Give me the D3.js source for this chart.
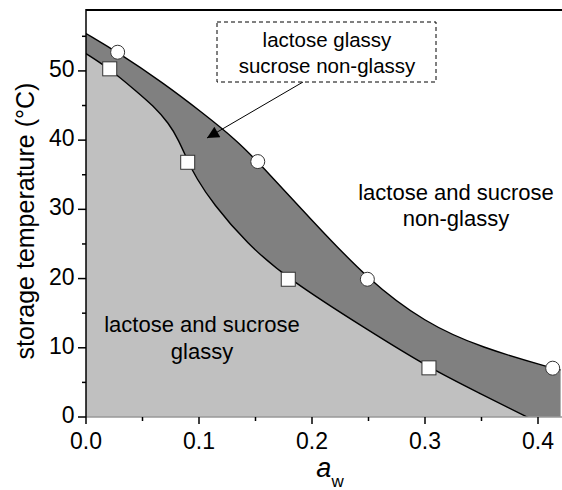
<!DOCTYPE html>
<html><head><meta charset="utf-8">
<script src="https://cdn.jsdelivr.net/npm/d3@7"></script>
<style>body{margin:0;background:#fff}svg{display:block}text{font-family:Arial,"Liberation Sans",sans-serif}</style>
</head><body>
<script>
// Data
const upperCurveX = [0, 0.028, 0.068, 0.1035, 0.133, 0.152, 0.2, 0.249, 0.3, 0.35, 0.413, 0.42];
const upperCurveT = [55.4, 52.7, 48.3, 43.9, 40.0, 36.9, 28.4, 19.9, 13.6, 10.0, 7.05, 6.8];
const lowerCurveX = [0, 0.021, 0.0442, 0.0593, 0.0735, 0.082, 0.09, 0.0973, 0.112, 0.142, 0.179, 0.249, 0.3035, 0.35, 0.39, 0.42];
const lowerCurveT = [52.5, 50.3, 47.1, 45.0, 42.4, 40.0, 37.0, 34.6, 30.9, 25.1, 19.9, 12.6, 7.1, 3.3, 0, -2.3];
const circleX = [0.028, 0.152, 0.249, 0.413];
const circleT = [52.7, 36.9, 19.9, 7.05];
const squareX = [0.021, 0.09, 0.179, 0.3035];
const squareT = [50.3, 36.8, 19.9, 7.1];
const xTicks = [0, 0.1, 0.2, 0.3, 0.4];
const xMinor = [0.05, 0.15, 0.25, 0.35];
const yTicks = [0, 10, 20, 30, 40, 50];
const yMinor = [5, 15, 25, 35, 45, 55];

const W = 562, H = 490;
const x = d3.scaleLinear().domain([0, 0.42]).range([86, 560.6]);
const y = d3.scaleLinear().domain([0, 58.8]).range([417, 10]);

const svg = d3.select("body").append("svg").attr("width", W).attr("height", H);
const defs = svg.append("defs");
defs.append("clipPath").attr("id", "plot").append("rect")
  .attr("x", 86).attr("y", 10).attr("width", W - 86).attr("height", 407);
defs.append("marker").attr("id", "ah").attr("viewBox", "0 0 10 10").attr("refX", 10).attr("refY", 5)
  .attr("markerWidth", 14).attr("markerHeight", 12).attr("markerUnits", "userSpaceOnUse").attr("orient", "auto")
  .append("path").attr("d", "M0,0 L10,5 L0,10 Z").attr("fill", "#000");

const upper = upperCurveX.map((v, i) => [v, upperCurveT[i]]);
const lower = lowerCurveX.map((v, i) => [v, lowerCurveT[i]]);
const curve = d3.curveBasis;
const area = d3.area().x(d => x(d[0])).y0(y(0)).y1(d => y(d[1])).curve(curve);
const line = d3.line().x(d => x(d[0])).y(d => y(d[1])).curve(curve);

const g = svg.append("g").attr("clip-path", "url(#plot)");
g.append("path").attr("d", area(upper)).attr("fill", "#808080");
g.append("path").attr("d", area(lower)).attr("fill", "#c0c0c0");
g.append("path").attr("d", line(upper)).attr("fill", "none").attr("stroke", "#000").attr("stroke-width", 1.4);
g.append("path").attr("d", line(lower)).attr("fill", "none").attr("stroke", "#000").attr("stroke-width", 1.4);

// axes
svg.append("line").attr("x1", 86).attr("x2", W).attr("y1", y(0)).attr("y2", y(0)).attr("stroke", "#999").attr("stroke-width", 1.5);
svg.append("line").attr("x1", 86).attr("x2", W).attr("y1", 10).attr("y2", 10).attr("stroke", "#000").attr("stroke-width", 2);
svg.append("line").attr("x1", 86).attr("x2", 86).attr("y1", 9).attr("y2", y(0)).attr("stroke", "#000").attr("stroke-width", 1.5);

xTicks.forEach(t => svg.append("line").attr("x1", x(t)).attr("x2", x(t)).attr("y1", y(0)).attr("y2", y(0) + 7).attr("stroke", "#000").attr("stroke-width", 1.5));
xMinor.forEach(t => svg.append("line").attr("x1", x(t)).attr("x2", x(t)).attr("y1", y(0)).attr("y2", y(0) + 4).attr("stroke", "#000").attr("stroke-width", 1.5));
yTicks.forEach(t => svg.append("line").attr("x1", 86).attr("x2", 78).attr("y1", y(t)).attr("y2", y(t)).attr("stroke", "#000").attr("stroke-width", 1.5));
yMinor.forEach(t => svg.append("line").attr("x1", 86).attr("x2", 82).attr("y1", y(t)).attr("y2", y(t)).attr("stroke", "#000").attr("stroke-width", 1.5));

svg.selectAll(".xl").data(xTicks).enter().append("text")
  .attr("x", d => x(d)).attr("y", 449).attr("text-anchor", "middle").attr("font-size", 23)
  .text(d => d.toFixed(1));
svg.selectAll(".yl").data(yTicks).enter().append("text")
  .attr("x", 74.5).attr("y", d => y(d) + 6).attr("text-anchor", "end").attr("font-size", 23)
  .text(d => d);

// axis titles
const xt = svg.append("text").attr("x", 330).attr("y", 477).attr("text-anchor", "middle");
xt.append("tspan").attr("font-size", 27).attr("font-style", "italic").text("a");
xt.append("tspan").attr("font-size", 17).attr("dy", 10).text("w");
svg.append("text").attr("transform", "translate(34,221) rotate(-90)").attr("text-anchor", "middle")
  .attr("font-size", 25).text("storage temperature (°C)");

// markers
svg.selectAll(".sq").data(squareX).enter().append("rect")
  .attr("x", (d) => x(d) - 7).attr("y", (d, i) => y(squareT[i]) - 7).attr("width", 14).attr("height", 14)
  .attr("fill", "#fff").attr("stroke", "#333").attr("stroke-width", 1);
svg.selectAll(".ci").data(circleX).enter().append("circle")
  .attr("cx", d => x(d)).attr("cy", (d, i) => y(circleT[i])).attr("r", 7)
  .attr("fill", "#fff").attr("stroke", "#333").attr("stroke-width", 1);

// annotations
svg.append("rect").attr("x", 217).attr("y", 22).attr("width", 219).attr("height", 60)
  .attr("fill", "#fff").attr("stroke", "#000").attr("stroke-width", 1).attr("stroke-dasharray", "4,3");
svg.append("text").attr("x", 327).attr("y", 47).attr("text-anchor", "middle").attr("font-size", 20.5).text("lactose glassy");
svg.append("text").attr("x", 327).attr("y", 73).attr("text-anchor", "middle").attr("font-size", 20.5).text("sucrose non-glassy");
svg.append("line").attr("x1", 303).attr("y1", 82).attr("x2", 207).attr("y2", 138)
  .attr("stroke", "#000").attr("stroke-width", 1).attr("marker-end", "url(#ah)");
svg.append("text").attr("x", 456).attr("y", 200).attr("text-anchor", "middle").attr("font-size", 22).text("lactose and sucrose");
svg.append("text").attr("x", 456).attr("y", 226).attr("text-anchor", "middle").attr("font-size", 22).text("non-glassy");
svg.append("text").attr("x", 202).attr("y", 332).attr("text-anchor", "middle").attr("font-size", 22).text("lactose and sucrose");
svg.append("text").attr("x", 202).attr("y", 359).attr("text-anchor", "middle").attr("font-size", 22).text("glassy");
</script>
</body></html>
